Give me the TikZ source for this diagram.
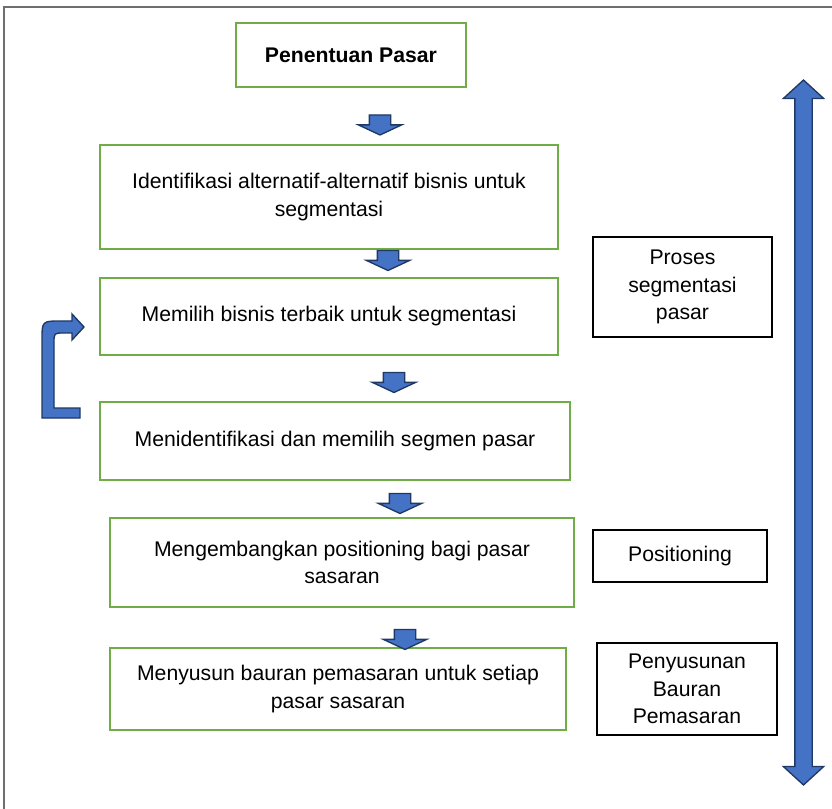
\documentclass[tikz,border=0pt]{standalone}
\usepackage{fontspec}
\setmainfont{Liberation Sans}
\usetikzlibrary{shapes.arrows}

\definecolor{boxgreen}{HTML}{70AD47}
\definecolor{arrowblue}{HTML}{4472C4}
\definecolor{arrowedge}{HTML}{1F3864}
\definecolor{framegray}{HTML}{6E6E6E}

\begin{document}
\begin{tikzpicture}[x=0.75pt, y=-0.75pt,
  every node/.style={font=\fontsize{15.9}{20.5}\selectfont},
  greenbox/.style={draw=boxgreen, line width=1.6pt, align=center, inner sep=0pt},
  blackbox/.style={draw=black, line width=1.1pt, align=center, inner sep=0pt},
  downarrow/.style={single arrow, draw=arrowedge, fill=arrowblue, line width=1pt,
    rotate=-90, minimum height=15pt, inner xsep=0pt, inner ysep=7.5pt,
    single arrow head extend=8.25pt, single arrow tip angle=130}]
\useasboundingbox (0,0) rectangle (832,809);
\draw[framegray, line width=1.5pt] (4,809) -- (4,7) -- (832,7);

% langkah-langkah
\node[greenbox, minimum width=172.5pt, minimum height=48pt, font=\fontsize{15.9}{20.5}\selectfont\bfseries] (pasar) at (351,55) {Penentuan Pasar};
\node[greenbox, minimum width=343.5pt, minimum height=78pt] (identifikasi) at (329,197) {Identifikasi alternatif-alternatif bisnis untuk\\ segmentasi};
\node[greenbox, minimum width=343.5pt, minimum height=57.75pt] (memilih) at (329,316.5) {Memilih bisnis terbaik untuk segmentasi};
\node[greenbox, minimum width=352.5pt, minimum height=58.5pt] (menidentifikasi) at (335,441) {Menidentifikasi dan memilih segmen pasar};
\node[greenbox, minimum width=348pt, minimum height=66.75pt] (mengembangkan) at (342,562.5) {Mengembangkan positioning bagi pasar\\ sasaran};
\node[greenbox, minimum width=342pt, minimum height=61.5pt] (menyusun) at (338,689) {Menyusun bauran pemasaran untuk setiap\\ pasar sasaran};

% keterangan
\node[blackbox, minimum width=134.25pt, minimum height=75pt] (proses) at (682.5,287) {Proses\\ segmentasi\\ pasar};
\node[blackbox, minimum width=130.5pt, minimum height=39pt] (positioning) at (680,556) {Positioning};
\node[blackbox, minimum width=135pt, minimum height=69pt] (penyusunan) at (687,689) {Penyusunan\\ Bauran\\ Pemasaran};

% panah kecil
\node[downarrow] (a1) at (380,122.5) {};
\node[downarrow] (a2) at (388,258) {};
\node[downarrow] (a3) at (394,380) {};
\node[downarrow] (a4) at (400,501) {};
\node[downarrow] (a5) at (405,637) {};

% panah dua arah
\node[double arrow, draw=arrowedge, fill=arrowblue, line width=1pt, rotate=90,
  minimum height=528.75pt, inner xsep=0pt, inner ysep=6pt, double arrow head extend=8.625pt,
  double arrow tip angle=95] (skala) at (803.5,432.5) {};

% panah balik
\draw[arrowedge, fill=arrowblue, line width=1pt, line join=miter]
  (42,418) -- (42,340) .. controls (42,321) .. (61,321) -- (72,321) -- (72,314) -- (84,327)
  -- (72,340) -- (72,333) -- (64,333) .. controls (54,333) .. (54,343) -- (54,408)
  -- (80,408) -- (80,418) -- cycle;
\end{tikzpicture}
\end{document}
